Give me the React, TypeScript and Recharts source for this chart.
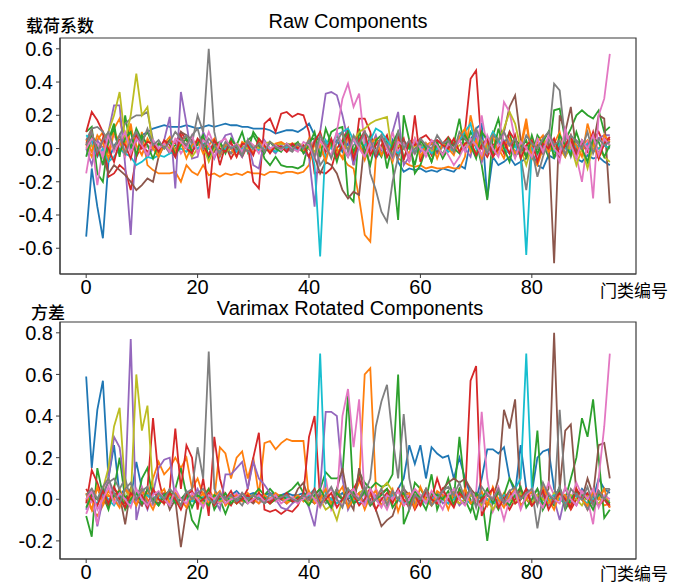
import { LineChart, Line, XAxis, YAxis, ReferenceArea } from "recharts";

// ---- Raw Components (top panel), x = 0..94 ----
const rawBlue = [
  -0.53, -0.12, -0.35, -0.54, -0.08, 0.02, 0.05, 0.08, 0.0, 0.05,
  0.08, 0.1, 0.12, 0.13, 0.14, 0.13, 0.13, 0.13, 0.14, 0.13,
  0.12, 0.13, 0.14, 0.13, 0.14, 0.15, 0.14, 0.14, 0.13, 0.13,
  0.12, 0.12, 0.12, 0.11, 0.09, 0.1, 0.11, 0.11, 0.1, 0.12,
  0.15, 0.08, 0.05, 0.04, 0.02, 0.05, -0.02, 0.03, -0.05, 0.02,
  -0.03, 0.04, -0.06, 0.0, -0.04, 0.05, -0.08, -0.14, -0.12, -0.13,
  -0.12, -0.14, -0.13, -0.14, -0.12, -0.13, -0.14, -0.1, -0.12, 0.05,
  0.12, 0.15, -0.3, -0.05, -0.1, -0.08, -0.05, -0.1, -0.08, -0.06,
  -0.02, -0.1, -0.12, -0.04, -0.06, 0.02, -0.04, 0.0, -0.06, -0.08,
  -0.04, -0.06, -0.05, -0.08, -0.1,
];
const rawOrange = [
  0.02, -0.05, 0.05, 0.1, -0.03, 0.12, 0.18, 0.02, 0.15, -0.05,
  0.1, -0.1, -0.13, -0.15, -0.15, -0.15, -0.14, -0.2, -0.1, -0.14,
  -0.16, -0.1, -0.16, -0.15, -0.17, -0.15, -0.16, -0.15, -0.16, -0.14,
  -0.15, -0.15, -0.16, -0.14, -0.14, -0.15, -0.14, -0.14, -0.15, -0.14,
  -0.1, 0.03, -0.05, 0.0, 0.04, -0.02, -0.05, -0.1, -0.12, -0.3,
  -0.52, -0.56, -0.05, 0.02, -0.04, 0.03, -0.06, -0.08, -0.1, -0.11,
  -0.1, -0.12, -0.11, -0.12, -0.12, -0.11, -0.12, -0.12, -0.05, 0.2,
  0.05, -0.08, 0.02, -0.05, 0.0, -0.06, 0.05, -0.03, 0.02, 0.18,
  -0.05, -0.1, 0.0, 0.05, -0.02, 0.0, -0.05, 0.03, -0.04, 0.02,
  0.05, 0.0, -0.03, 0.02, 0.0,
];
const rawGreen = [
  0.1, 0.13, -0.15, -0.2, 0.05, 0.15, -0.05, 0.2, 0.0, 0.12,
  0.05, 0.1, 0.02, -0.02, 0.03, -0.01, 0.02, 0.04, 0.0, 0.02,
  0.05, 0.0, -0.05, 0.02, -0.03, 0.0, 0.05, 0.02, 0.1, -0.02,
  0.1, 0.05, -0.06, -0.1, -0.05, -0.1, -0.11, -0.11, -0.12, -0.1,
  0.05, 0.06, 0.05, 0.0, 0.1, 0.12, 0.13, -0.28, -0.32, 0.12,
  -0.05, 0.08, 0.0, -0.05, 0.06, -0.1, -0.43, 0.2, 0.05, -0.15,
  -0.1, 0.0, -0.08, 0.02, -0.06, 0.0, 0.03, 0.18, -0.02, 0.1,
  0.05, -0.1, -0.31, 0.08, 0.18, 0.02, 0.1, -0.05, 0.0, 0.05,
  -0.06, 0.08, 0.03, -0.05, 0.23, 0.24, 0.05, 0.12, 0.2, 0.23,
  0.2, 0.18, 0.23, 0.1, 0.13,
];
const rawRed = [
  0.1, 0.22, 0.17, 0.1, -0.17, -0.15, -0.1, -0.13, -0.25, -0.05,
  0.02, -0.02, 0.0, 0.03, 0.02, 0.05, 0.03, 0.1, 0.05, -0.02,
  0.05, 0.02, -0.3, 0.05, -0.1, 0.02, -0.06, 0.0, -0.05, 0.02,
  -0.2, -0.24, 0.15, 0.18, 0.1, 0.21, 0.22, 0.19, 0.21, 0.2,
  0.1, -0.15, -0.14, -0.15, -0.12, 0.0, 0.05, 0.12, -0.1, 0.18,
  0.18, 0.1, -0.05, 0.02, 0.08, -0.05, 0.0, 0.06, -0.08, 0.2,
  -0.08, 0.03, -0.04, 0.05, 0.03, 0.07, 0.02, 0.05, 0.1, 0.42,
  0.47, 0.0, -0.05, 0.02, 0.05, -0.03, 0.1, 0.05, 0.02, -0.05,
  0.03, 0.0, -0.03, 0.05, 0.02, -0.05, 0.02, 0.05, -0.04, 0.03,
  -0.02, 0.05, 0.1, 0.02, 0.06,
];
const rawPurple = [
  0.0, -0.1, 0.05, 0.0, 0.1, 0.26, 0.26, -0.1, -0.52, 0.1,
  0.02, -0.05, 0.0, -0.02, 0.05, 0.19, -0.24, 0.34, 0.15, -0.06,
  -0.05, 0.1, 0.03, -0.06, 0.02, 0.08, 0.09, 0.0, -0.05, 0.05,
  -0.1, -0.12, 0.05, 0.0, -0.03, 0.02, -0.01, 0.0, 0.02, -0.02,
  -0.05, -0.35, 0.1, 0.33, 0.34, 0.32, 0.2, 0.05, -0.1, 0.02,
  -0.05, 0.0, 0.08, -0.03, 0.0, 0.1, 0.22, -0.1, -0.05, 0.05,
  -0.02, 0.02, 0.0, -0.03, 0.01, 0.02, -0.02, 0.05, 0.0, -0.05,
  0.1, -0.08, 0.02, 0.0, -0.03, 0.05, 0.02, -0.02, 0.03, 0.0,
  -0.04, 0.02, 0.05, -0.03, 0.04, 0.0, 0.08, 0.02, -0.02, 0.05,
  0.0, 0.02, 0.06, 0.08, 0.08,
];
const rawBrown = [
  0.02, 0.08, 0.0, -0.05, -0.15, -0.1, -0.13, -0.16, -0.2, -0.25,
  -0.22, -0.18, -0.2, -0.05, 0.02, 0.0, -0.05, 0.1, 0.08, 0.05,
  0.02, 0.06, 0.0, -0.02, 0.03, 0.0, -0.03, 0.02, 0.0, 0.0,
  -0.02, 0.02, 0.0, -0.01, 0.01, 0.0, 0.0, 0.02, 0.0, -0.02,
  0.0, -0.05, -0.15, -0.08, -0.1, -0.15, -0.25, -0.3, -0.26, -0.28,
  0.05, -0.02, 0.03, 0.06, -0.05, 0.02, -0.05, 0.05, 0.0, -0.03,
  0.02, 0.0, 0.03, -0.02, 0.02, 0.04, 0.02, 0.05, 0.06, 0.0,
  0.03, -0.04, 0.02, 0.0, 0.05, 0.1, 0.25, 0.32, 0.05, -0.05,
  0.0, 0.02, -0.03, 0.05, -0.69, 0.2, 0.1, 0.25, -0.02, 0.05,
  0.0, 0.02, 0.2, 0.18, -0.33,
];
const rawPink = [
  -0.15, 0.05, -0.22, 0.0, 0.05, 0.08, 0.02, -0.05, 0.05, 0.0,
  -0.03, 0.02, 0.0, -0.02, 0.03, 0.0, 0.05, -0.03, 0.02, 0.0,
  0.04, 0.0, 0.1, 0.02, -0.02, 0.0, 0.03, -0.02, 0.01, 0.0,
  -0.02, 0.03, 0.0, -0.02, 0.0, 0.01, -0.02, 0.0, 0.02, -0.01,
  0.0, 0.05, -0.05, 0.02, 0.0, 0.1, 0.3, 0.39, 0.25, 0.33,
  0.02, -0.03, 0.05, 0.0, -0.05, 0.1, -0.02, 0.03, -0.08, 0.0,
  0.02, -0.05, 0.0, 0.05, 0.02, -0.04, -0.1, -0.05, 0.02, 0.0,
  -0.03, 0.2, 0.0, -0.05, 0.02, 0.28, 0.22, 0.05, -0.04, 0.0,
  0.02, -0.05, 0.02, 0.05, 0.0, -0.08, 0.1, 0.0, -0.05, -0.2,
  0.05, -0.3, 0.2, 0.3, 0.57,
];
const rawGray = [
  0.05, 0.12, 0.13, 0.1, 0.05, 0.0, 0.08, 0.15, 0.18, 0.2,
  0.2, 0.22, 0.05, 0.0, 0.02, -0.03, 0.0, 0.05, 0.08, 0.03,
  0.2, 0.1, 0.6, 0.1, -0.05, 0.02, -0.03, 0.0, 0.02, -0.02,
  0.0, 0.02, -0.01, 0.0, -0.02, 0.01, 0.0, -0.02, 0.02, 0.0,
  -0.05, 0.05, -0.1, -0.05, 0.02, 0.08, 0.0, -0.05, 0.02, 0.05,
  0.1, -0.15, -0.25, -0.38, -0.44, -0.2, -0.05, 0.02, -0.05, 0.0,
  0.03, -0.02, 0.05, 0.0, -0.03, 0.02, 0.0, 0.05, 0.1, 0.02,
  -0.05, 0.03, 0.0, -0.02, 0.05, 0.0, -0.03, 0.02, -0.05, -0.25,
  0.0, -0.17, -0.05, 0.05, 0.39, 0.35, 0.05, -0.05, 0.05, 0.02,
  0.0, 0.05, -0.03, 0.05, 0.02,
];
const rawOlive = [
  0.0, 0.02, -0.03, 0.05, 0.1, 0.2, 0.34, 0.05, 0.2, 0.45,
  0.2, 0.25, 0.0, -0.03, 0.02, 0.0, -0.02, 0.03, 0.0, -0.05,
  0.0, 0.02, -0.08, 0.0, 0.02, -0.02, 0.0, 0.03, 0.01, 0.0,
  0.02, 0.0, 0.03, 0.04, 0.02, 0.03, 0.02, 0.03, 0.03, 0.02,
  0.0, -0.02, 0.05, 0.0, 0.03, -0.03, 0.02, 0.0, 0.05, 0.1,
  0.12, 0.15, 0.17, 0.18, 0.19, -0.05, 0.02, 0.0, -0.03, 0.02,
  0.0, 0.03, -0.02, 0.0, 0.02, 0.0, -0.02, 0.02, 0.03, 0.0,
  -0.02, 0.05, 0.0, 0.1, 0.05, 0.12, 0.22, 0.15, 0.0, -0.1,
  0.02, 0.0, 0.05, -0.02, 0.0, 0.03, -0.05, 0.02, -0.1, 0.0,
  -0.12, 0.02, 0.0, -0.05, -0.08,
];
const rawCyan = [
  0.08, 0.05, -0.05, 0.0, -0.08, -0.05, 0.0, -0.03, -0.05, -0.1,
  -0.08, -0.05, -0.06, -0.04, -0.05, -0.03, -0.02, 0.0, -0.02, 0.02,
  0.0, 0.03, 0.0, 0.02, -0.02, 0.0, 0.01, -0.02, 0.0, 0.02,
  0.0, -0.01, 0.01, 0.0, -0.02, 0.0, 0.01, 0.0, -0.01, 0.0,
  0.05, -0.1, -0.65, 0.05, 0.0, 0.08, 0.1, 0.12, 0.05, 0.0,
  0.02, 0.05, 0.12, 0.1, 0.05, 0.0, -0.03, 0.02, 0.0, -0.02,
  0.0, 0.02, -0.03, 0.0, 0.02, -0.02, 0.0, 0.05, 0.1, 0.15,
  0.0, -0.05, 0.02, 0.1, 0.05, 0.0, -0.03, 0.02, -0.05, -0.64,
  0.0, -0.03, 0.02, 0.0, -0.02, 0.03, 0.0, -0.02, 0.02, 0.0,
  0.03, -0.02, 0.0, 0.02, 0.0,
];
const rawMinorA = [
  0.05, -0.02, 0.08, 0.03, -0.06, 0.1, 0.04, -0.03, 0.12, 0.02,
  -0.04, 0.06, 0.0, -0.05, 0.03, 0.07, -0.02, 0.04, -0.06, 0.02,
  0.05, -0.03, 0.02, 0.06, -0.04, 0.03, 0.0, -0.05, 0.04, 0.02,
  -0.03, 0.05, 0.01, -0.02, 0.03, 0.04, 0.02, 0.03, 0.01, -0.02,
  0.06, -0.05, 0.02, -0.08, 0.05, 0.0, -0.06, 0.08, -0.03, 0.04,
  -0.07, 0.03, 0.06, -0.04, 0.02, -0.08, 0.05, 0.0, -0.03, 0.06,
  -0.05, 0.02, 0.04, -0.06, 0.03, 0.0, -0.04, 0.07, 0.12, -0.02,
  0.05, -0.06, 0.03, 0.08, -0.04, 0.02, 0.06, -0.03, 0.0, 0.15,
  -0.05, 0.04, 0.08, -0.02, 0.03, 0.1, -0.04, 0.06, 0.02, -0.05,
  0.15, 0.03, -0.06, 0.08, 0.04,
];
const rawMinorB = [
  -0.05, 0.08, 0.02, -0.1, 0.05, 0.12, -0.03, 0.06, 0.1, -0.04,
  0.08, 0.02, -0.06, 0.03, 0.0, 0.05, -0.04, 0.02, 0.06, -0.02,
  0.03, 0.08, -0.05, 0.02, 0.04, -0.03, 0.06, 0.01, -0.04, 0.05,
  0.08, 0.02, -0.03, 0.04, 0.0, -0.02, 0.03, 0.01, 0.04, -0.03,
  0.02, 0.1, -0.05, 0.12, 0.03, -0.08, 0.04, 0.1, -0.02, 0.06,
  0.0, -0.1, 0.05, 0.08, -0.12, 0.03, 0.1, -0.06, 0.02, -0.1,
  0.05, 0.0, -0.08, 0.04, -0.05, 0.06, 0.0, -0.03, 0.08, 0.02,
  -0.06, 0.1, 0.05, -0.04, 0.12, 0.0, -0.08, 0.05, 0.02, -0.05,
  0.08, -0.03, 0.04, 0.1, -0.06, 0.08, 0.02, -0.04, 0.1, 0.0,
  -0.08, 0.06, 0.04, -0.05, 0.02,
];
const rawMinorC = [
  0.03, 0.1, -0.04, 0.06, 0.0, -0.08, 0.05, 0.02, -0.06, 0.08,
  0.0, 0.04, 0.03, -0.02, 0.05, 0.02, -0.05, 0.08, 0.0, -0.03,
  0.06, 0.02, -0.04, 0.05, 0.0, -0.02, 0.04, -0.05, 0.03, 0.02,
  -0.04, 0.06, 0.02, -0.03, 0.02, 0.01, -0.02, 0.03, 0.0, 0.02,
  -0.05, 0.04, 0.1, -0.02, 0.06, -0.05, 0.02, 0.08, -0.06, 0.05,
  0.1, -0.04, 0.02, 0.06, -0.05, 0.0, 0.08, -0.07, 0.05, 0.02,
  0.06, 0.08, 0.04, 0.05, 0.02, 0.0, 0.06, -0.02, 0.03, 0.05,
  -0.04, 0.02, 0.06, -0.05, 0.0, 0.04, -0.03, 0.08, -0.06, 0.02,
  0.05, -0.08, 0.03, 0.0, 0.06, -0.04, 0.02, 0.08, -0.05, 0.04,
  0.0, 0.1, -0.06, 0.03, 0.07,
];
const rawMinorD = [
  0.0, 0.06, 0.03, -0.05, 0.08, -0.02, 0.04, 0.1, -0.03, 0.06,
  0.02, -0.04, 0.05, 0.0, 0.03, -0.02, 0.06, 0.04, 0.0, 0.08,
  -0.03, 0.05, 0.02, -0.05, 0.04, 0.06, 0.0, 0.03, -0.02, 0.05,
  0.02, -0.03, 0.04, 0.0, 0.02, -0.01, 0.03, 0.0, -0.02, 0.04,
  0.02, -0.06, 0.05, 0.0, -0.04, 0.1, 0.02, -0.05, 0.06, 0.0,
  -0.05, 0.04, -0.02, 0.08, 0.0, -0.06, 0.04, 0.02, -0.05, 0.06,
  0.0, -0.03, 0.05, 0.02, -0.04, 0.03, 0.0, 0.05, -0.02, 0.06,
  0.02, -0.04, 0.08, 0.0, -0.05, 0.1, 0.03, -0.06, 0.04, 0.0,
  -0.05, 0.06, -0.02, 0.08, 0.0, -0.04, 0.12, 0.02, -0.06, 0.05,
  0.0, 0.08, -0.04, 0.06, 0.02,
];
const rawMinorE = [
  0.02, 0.1, -0.02, 0.05, 0.1, 0.0, 0.08, -0.03, 0.05, 0.1,
  0.03, 0.12, 0.02, 0.05, 0.0, 0.04, 0.1, 0.06, 0.02, 0.08,
  0.12, 0.0, 0.06, 0.02, -0.03, 0.04, 0.0, 0.02, -0.04, 0.05,
  0.0, 0.03, -0.02, 0.04, 0.01, 0.0, 0.02, -0.01, 0.03, 0.0,
  0.05, -0.05, 0.08, 0.02, -0.06, 0.04, 0.1, -0.02, 0.08, 0.02,
  0.1, 0.05, -0.03, 0.08, 0.02, -0.05, 0.1, 0.0, 0.05, -0.03,
  0.06, 0.02, 0.0, 0.08, 0.03, 0.05, -0.02, 0.1, 0.06, 0.02,
  0.12, 0.04, -0.03, 0.08, 0.05, 0.1, 0.02, 0.06, -0.02, 0.08,
  0.03, 0.0, 0.06, 0.1, 0.02, 0.05, -0.04, 0.08, 0.04, 0.0,
  0.1, -0.03, 0.06, 0.02, 0.04,
];

// ---- Varimax Rotated Components (bottom panel) ----
const rotBlue = [
  0.59, 0.15, 0.43, 0.57, 0.1, 0.26, 0.02, 0.05, 0.0, 0.18,
  0.05, 0.02, 0.0, 0.03, 0.0, 0.02, -0.01, 0.0, 0.03, 0.0,
  -0.02, 0.01, 0.0, 0.02, -0.01, 0.0, 0.02, 0.04, 0.01, 0.02,
  0.03, 0.02, 0.02, 0.03, 0.02, 0.02, 0.03, 0.02, 0.02, 0.03,
  0.02, 0.01, 0.0, 0.02, 0.0, 0.01, 0.03, 0.0, 0.02, 0.0,
  -0.01, 0.02, 0.0, -0.03, 0.02, 0.0, 0.05, 0.1, 0.26, 0.17,
  0.26, 0.1, 0.25, 0.22, 0.2, 0.21, 0.1, 0.2, 0.1, 0.02,
  0.0, 0.1, 0.24, 0.24, 0.22, 0.25, 0.1, 0.03, 0.26, 0.05,
  0.03, 0.2, 0.23, 0.24, 0.05, 0.0, 0.02, -0.02, 0.0, 0.05,
  0.02, 0.0, 0.1, 0.05, 0.03,
];
const rotOrange = [
  0.0, -0.05, -0.08, -0.03, 0.02, 0.0, 0.05, -0.02, 0.03, 0.0,
  0.05, 0.02, 0.1, 0.18, 0.12, 0.15, 0.2, 0.15, 0.2, 0.05,
  0.1, 0.02, 0.05, 0.0, 0.25, 0.22, 0.1, 0.2, 0.23, 0.1,
  0.2, 0.02, 0.27, 0.28, 0.24, 0.27, 0.29, 0.28, 0.28, 0.28,
  0.0, 0.02, -0.03, 0.0, -0.02, 0.05, 0.0, -0.03, 0.02, 0.08,
  0.6, 0.63, 0.05, 0.0, -0.02, 0.03, 0.0, -0.02, 0.02, 0.0,
  -0.03, 0.02, 0.0, -0.02, 0.03, 0.0, 0.02, -0.02, 0.0, 0.03,
  0.0, -0.03, 0.02, 0.0, -0.02, 0.03, 0.0, -0.02, 0.02, 0.0,
  -0.03, 0.02, 0.0, 0.03, -0.02, 0.0, 0.02, -0.03, 0.0, 0.02,
  0.0, -0.02, 0.01, -0.03, -0.02,
];
const rotGreen = [
  -0.08, -0.18, 0.15, 0.02, -0.05, 0.05, 0.2, 0.0, 0.05, -0.03,
  0.1, 0.15, 0.0, -0.03, 0.02, 0.0, 0.05, 0.15, 0.02, -0.1,
  -0.14, 0.0, 0.05, -0.05, 0.0, -0.07, 0.0, -0.02, 0.03, 0.0,
  0.02, 0.05, 0.02, 0.05, 0.02, 0.0, 0.03, 0.05, 0.08, 0.03,
  0.0, 0.02, 0.05, 0.13, 0.1, 0.1, 0.12, 0.5, 0.0, 0.13,
  0.08, 0.05, 0.08, 0.06, 0.07, 0.12, 0.6, -0.12, -0.05, 0.08,
  0.05, 0.0, 0.12, -0.05, 0.02, 0.1, 0.0, 0.3, 0.05, 0.0,
  -0.1, 0.02, -0.2, 0.0, -0.05, 0.02, 0.1, 0.05, -0.03, 0.0,
  0.05, 0.33, -0.05, 0.0, -0.03, 0.05, 0.0, 0.1, 0.2, 0.39,
  0.3, 0.48, 0.2, -0.09, -0.05,
];
const rotRed = [
  -0.02, 0.14, 0.08, 0.0, -0.03, 0.02, 0.0, -0.02, 0.05, 0.0,
  -0.03, 0.05, 0.39, 0.1, -0.02, 0.05, 0.34, 0.05, 0.26, 0.2,
  -0.05, 0.1, -0.08, 0.3, 0.1, 0.0, -0.03, 0.02, 0.0, 0.05,
  0.2, 0.32, -0.05, -0.06, -0.05, -0.07, -0.05, -0.06, -0.03, 0.03,
  0.3, 0.4, 0.0, 0.02, 0.0, 0.02, 0.0, 0.03, 0.05, 0.1,
  0.02, 0.05, 0.0, 0.03, 0.05, 0.02, 0.0, -0.03, 0.02, -0.05,
  0.0, 0.05, 0.0, 0.1, 0.02, 0.0, -0.02, 0.05, 0.0, 0.57,
  0.64, -0.08, -0.02, 0.0, 0.03, 0.0, -0.05, 0.0, 0.05, 0.0,
  -0.03, 0.02, 0.05, 0.0, 0.0, 0.03, 0.0, -0.05, 0.0, 0.02,
  -0.05, 0.0, -0.03, 0.0, -0.04,
];
const rotPurple = [
  -0.05, 0.05, -0.13, 0.0, 0.1, 0.3, 0.25, 0.05, 0.77, -0.1,
  0.02, -0.05, 0.03, 0.15, 0.19, 0.2, 0.0, -0.03, 0.02, 0.0,
  0.05, -0.02, 0.03, 0.0, -0.05, 0.12, 0.12, 0.15, 0.18, 0.05,
  0.18, 0.1, 0.07, 0.03, 0.0, -0.04, -0.05, -0.02, 0.0, 0.02,
  -0.04, -0.13, 0.05, 0.42, 0.42, 0.4, 0.1, -0.05, 0.0, 0.03,
  -0.02, 0.0, 0.02, -0.03, 0.0, 0.02, 0.0, -0.02, 0.03, 0.0,
  -0.02, 0.02, 0.0, 0.03, -0.02, 0.0, 0.02, -0.03, 0.0, 0.02,
  0.0, -0.02, 0.03, 0.0, -0.03, 0.02, 0.0, -0.02, 0.0, 0.03,
  -0.02, 0.0, 0.02, -0.03, 0.0, -0.1, 0.02, 0.0, -0.03, 0.02,
  0.0, -0.02, 0.03, 0.0, -0.03,
];
const rotBrown = [
  0.0, 0.02, 0.05, 0.0, -0.03, 0.05, 0.02, -0.12, 0.05, 0.0,
  -0.03, 0.02, 0.0, -0.02, 0.03, -0.05, 0.0, -0.23, -0.05, 0.02,
  0.0, -0.03, 0.02, 0.0, -0.02, 0.01, 0.0, -0.02, 0.03, 0.0,
  -0.02, 0.01, 0.0, -0.01, 0.02, 0.0, 0.02, -0.01, 0.05, 0.08,
  0.0, -0.02, 0.02, 0.0, -0.03, 0.05, 0.15, 0.0, -0.05, 0.15,
  0.02, 0.0, -0.05, -0.13, -0.1, -0.08, 0.0, 0.05, 0.02, 0.0,
  -0.03, 0.02, 0.0, -0.02, 0.05, 0.08, 0.1, 0.08, 0.1, 0.05,
  0.02, 0.0, -0.03, 0.0, 0.1, 0.43, 0.34, 0.48, 0.0, 0.05,
  -0.02, 0.02, 0.0, 0.05, 0.8, 0.05, 0.33, 0.36, 0.03, 0.0,
  0.1, 0.02, 0.26, 0.27, 0.1,
];
const rotPink = [
  -0.07, 0.0, -0.12, 0.05, 0.1, 0.0, -0.03, 0.05, 0.0, -0.02,
  0.06, 0.0, -0.03, 0.02, 0.0, -0.02, 0.03, 0.0, -0.02, 0.02,
  0.0, -0.03, 0.03, 0.0, -0.02, 0.01, 0.0, 0.03, -0.01, 0.0,
  0.02, -0.02, 0.0, 0.01, -0.01, 0.0, 0.02, 0.0, -0.02, 0.01,
  0.0, 0.02, -0.03, 0.1, -0.05, 0.0, 0.4, 0.53, 0.25, 0.48,
  0.0, -0.03, 0.05, 0.0, -0.05, 0.02, 0.0, -0.02, 0.03, 0.0,
  -0.03, 0.02, 0.0, -0.02, 0.03, 0.0, -0.03, 0.02, 0.0, -0.02,
  0.03, 0.42, 0.1, -0.06, 0.0, -0.1, 0.0, 0.05, -0.03, 0.0,
  0.02, 0.05, 0.0, 0.08, 0.02, 0.0, 0.05, 0.0, 0.08, 0.02,
  0.0, -0.12, 0.1, 0.35, 0.7,
];
const rotGray = [
  0.02, 0.05, 0.0, 0.03, 0.08, 0.1, 0.05, 0.1, 0.0, 0.03,
  0.05, -0.02, 0.0, 0.02, 0.0, -0.03, 0.02, 0.0, 0.03, 0.05,
  0.25, 0.1, 0.71, 0.05, 0.0, -0.02, 0.02, 0.0, -0.03, 0.02,
  0.0, 0.01, -0.02, 0.0, 0.02, 0.0, -0.02, 0.01, 0.0, 0.02,
  -0.02, 0.0, 0.03, -0.02, 0.0, 0.05, 0.0, -0.03, 0.02, 0.0,
  0.03, 0.1, 0.35, 0.47, 0.55, 0.3, 0.1, 0.41, 0.1, -0.03,
  0.02, 0.0, -0.02, 0.03, 0.0, -0.02, 0.05, 0.0, -0.02, 0.03,
  0.0, -0.02, 0.02, 0.0, 0.03, -0.02, 0.0, 0.02, -0.03, 0.0,
  0.05, -0.14, 0.02, 0.0, -0.02, 0.43, 0.05, 0.0, 0.03, 0.0,
  -0.05, 0.02, 0.0, 0.05, 0.05,
];
const rotOlive = [
  0.02, 0.0, -0.03, 0.05, 0.15, 0.35, 0.44, 0.05, 0.0, 0.6,
  0.33, 0.45, 0.05, 0.0, -0.02, 0.02, 0.0, -0.03, 0.02, 0.0,
  0.02, -0.02, 0.0, 0.02, -0.01, 0.0, 0.01, -0.02, 0.0, 0.01,
  0.02, 0.0, 0.01, -0.02, 0.0, 0.02, -0.01, 0.0, 0.01, 0.0,
  -0.02, 0.01, 0.0, -0.05, -0.03, -0.1, 0.0, 0.02, 0.0, 0.03,
  0.05, 0.02, 0.0, 0.05, 0.08, 0.04, 0.0, 0.02, -0.02, 0.0,
  0.02, 0.0, -0.03, 0.01, 0.0, 0.02, 0.0, -0.02, 0.0, 0.02,
  0.0, -0.03, 0.0, -0.05, 0.0, 0.02, 0.0, -0.02, 0.03, 0.0,
  -0.02, 0.02, 0.0, -0.02, 0.03, 0.0, -0.02, 0.02, 0.0, -0.03,
  0.02, 0.0, -0.02, 0.01, -0.02,
];
const rotCyan = [
  0.02, 0.0, -0.02, 0.03, 0.0, -0.03, 0.02, 0.0, -0.02, 0.03,
  0.0, 0.02, -0.01, 0.0, 0.02, 0.0, -0.01, 0.0, 0.01, -0.01,
  0.0, 0.01, 0.0, -0.01, 0.0, 0.01, 0.0, -0.01, 0.0, 0.01,
  0.0, 0.01, 0.0, 0.02, 0.01, 0.0, 0.01, 0.0, 0.01, 0.0,
  0.02, 0.05, 0.7, 0.02, 0.0, -0.02, 0.0, 0.02, 0.0, -0.02,
  0.0, 0.02, 0.0, -0.03, 0.0, 0.02, 0.0, -0.02, 0.0, 0.02,
  0.0, -0.02, 0.0, 0.02, 0.0, -0.02, 0.0, 0.02, 0.0, -0.02,
  0.0, 0.02, 0.0, -0.02, 0.0, 0.02, 0.0, 0.05, 0.1, 0.7,
  0.05, 0.0, -0.02, 0.0, 0.02, 0.0, -0.02, 0.0, 0.02, 0.0,
  -0.02, 0.0, 0.02, 0.0, -0.01,
];
const rotMinorA = [
  0.03, -0.05, 0.06, -0.02, 0.04, 0.0, -0.04, 0.05, 0.02, -0.03,
  0.04, 0.0, -0.05, 0.02, 0.05, -0.02, 0.03, 0.0, -0.04, 0.02,
  0.0, 0.03, -0.02, 0.01, 0.04, -0.03, 0.0, 0.02, -0.01, 0.03,
  0.0, -0.02, 0.02, 0.0, 0.03, 0.01, -0.02, 0.0, 0.02, -0.01,
  0.04, -0.02, 0.0, 0.05, -0.03, 0.02, 0.06, -0.04, 0.0, 0.03,
  -0.05, 0.02, 0.04, -0.03, 0.0, 0.05, -0.06, 0.02, 0.03, -0.04,
  0.06, 0.0, -0.03, 0.04, 0.02, -0.05, 0.03, 0.0, 0.05, -0.02,
  0.0, 0.04, -0.03, 0.06, 0.0, -0.04, 0.02, 0.05, -0.03, 0.0,
  0.04, -0.02, 0.06, 0.0, -0.05, 0.03, 0.02, -0.04, 0.05, 0.0,
  -0.03, 0.04, 0.0, 0.05, -0.04,
];
const rotMinorB = [
  -0.04, 0.02, 0.0, 0.05, -0.03, 0.02, 0.04, -0.05, 0.0, 0.03,
  -0.02, 0.05, 0.0, -0.03, 0.02, 0.04, -0.02, 0.0, 0.03, -0.04,
  0.02, 0.0, -0.03, 0.02, 0.0, 0.03, -0.02, 0.01, 0.0, -0.02,
  0.02, 0.0, 0.01, -0.02, 0.0, 0.02, 0.0, -0.01, 0.01, 0.0,
  -0.03, 0.02, 0.05, 0.0, -0.04, 0.03, 0.0, 0.05, -0.02, 0.0,
  0.04, -0.03, 0.0, 0.02, 0.05, -0.04, 0.0, 0.03, -0.02, 0.04,
  0.0, -0.05, 0.03, 0.02, 0.0, 0.04, -0.03, 0.05, 0.0, -0.06,
  0.03, 0.0, 0.05, -0.02, 0.04, 0.0, -0.03, 0.02, 0.06, -0.04,
  0.0, 0.05, -0.03, 0.02, 0.0, 0.06, -0.05, 0.0, 0.04, 0.02,
  0.0, -0.05, 0.03, 0.0, -0.02,
];
const rotMinorC = [
  0.05, 0.0, -0.03, 0.04, -0.02, 0.06, 0.0, -0.04, 0.03, 0.0,
  0.02, -0.04, 0.05, 0.0, -0.02, 0.03, 0.0, -0.05, 0.02, 0.04,
  -0.02, 0.0, 0.03, -0.03, 0.02, 0.0, 0.04, -0.02, 0.0, 0.02,
  -0.01, 0.03, 0.0, -0.02, 0.01, 0.0, 0.03, -0.01, 0.0, 0.02,
  0.0, 0.05, -0.02, 0.0, 0.03, -0.04, 0.0, 0.04, 0.02, -0.03,
  0.0, 0.04, -0.05, 0.0, 0.03, -0.02, 0.05, 0.0, -0.04, 0.02,
  -0.03, 0.04, 0.0, -0.02, 0.05, 0.0, -0.04, 0.03, 0.0, 0.05,
  -0.03, 0.0, 0.02, 0.05, -0.04, 0.0, 0.04, -0.02, 0.0, 0.05,
  -0.03, 0.0, 0.04, -0.05, 0.0, 0.03, 0.0, -0.04, 0.05, 0.0,
  0.03, -0.02, 0.04, 0.0, -0.03,
];
const rotMinorD = [
  0.0, 0.04, -0.05, 0.0, 0.06, -0.02, 0.03, 0.0, -0.04, 0.05,
  0.0, -0.03, 0.02, 0.04, 0.0, -0.03, 0.05, 0.0, -0.02, 0.03,
  0.0, -0.04, 0.02, 0.0, 0.03, -0.02, 0.0, 0.01, 0.03, -0.02,
  0.0, 0.02, -0.01, 0.0, 0.02, -0.02, 0.0, 0.01, -0.01, 0.0,
  0.03, 0.0, -0.04, 0.02, 0.05, 0.0, -0.03, 0.02, 0.05, 0.0,
  -0.03, 0.05, 0.0, -0.04, 0.02, 0.0, 0.04, -0.03, 0.0, 0.05,
  0.02, -0.02, 0.04, 0.0, -0.05, 0.02, 0.05, 0.0, -0.03, 0.04,
  0.0, -0.05, 0.03, 0.0, 0.06, -0.02, 0.0, 0.04, -0.05, 0.02,
  0.05, 0.0, -0.04, 0.03, 0.0, -0.02, 0.06, 0.0, -0.03, 0.04,
  0.0, 0.05, -0.04, 0.02, 0.0,
];
const rotMinorE = [
  0.02, 0.05, 0.0, 0.06, 0.1, 0.03, -0.02, 0.05, 0.08, 0.0,
  0.04, 0.06, -0.02, 0.03, 0.0, 0.05, 0.02, -0.03, 0.04, 0.0,
  0.03, 0.05, 0.0, -0.02, 0.03, 0.0, 0.02, -0.01, 0.03, 0.0,
  0.02, 0.0, -0.02, 0.03, 0.0, 0.01, 0.02, 0.0, -0.01, 0.02,
  0.0, 0.04, -0.03, 0.02, 0.06, 0.0, -0.04, 0.05, 0.02, 0.0,
  0.06, -0.02, 0.0, 0.05, -0.03, 0.04, 0.0, 0.06, -0.05, 0.02,
  0.0, 0.05, -0.03, 0.0, 0.04, 0.06, 0.02, 0.08, 0.0, 0.05,
  -0.04, 0.06, 0.02, 0.0, 0.05, -0.02, 0.04, 0.06, 0.0, 0.03,
  0.05, -0.03, 0.08, 0.02, 0.0, 0.06, -0.04, 0.05, 0.02, 0.0,
  0.06, -0.03, 0.04, 0.0, 0.05,
];

const blue = "#1f77b4";
const orange = "#ff7f0e";
const green = "#2ca02c";
const red = "#d62728";
const purple = "#9467bd";
const brown = "#8c564b";
const pink = "#e377c2";
const gray = "#7f7f7f";
const olive = "#bcbd22";
const cyan = "#17becf";

const lineColors = [
  blue, orange, green, red, purple, brown, pink, gray, olive, cyan,
  orange, green, red, pink, gray,
];

const rawLines = [
  rawBlue, rawOrange, rawGreen, rawRed, rawPurple, rawBrown, rawPink, rawGray, rawOlive, rawCyan,
  rawMinorA, rawMinorB, rawMinorC, rawMinorD, rawMinorE,
];
const rotLines = [
  rotBlue, rotOrange, rotGreen, rotRed, rotPurple, rotBrown, rotPink, rotGray, rotOlive, rotCyan,
  rotMinorA, rotMinorB, rotMinorC, rotMinorD, rotMinorE,
];

const xTicks = [0, 20, 40, 60, 80];
const rawYTicks = [-0.6, -0.4, -0.2, 0, 0.2, 0.4, 0.6];
const rotYTicks = [-0.2, 0, 0.2, 0.4, 0.6, 0.8];

function toRows(lines: number[][]) {
  return lines[0].map((_, i) => {
    const row: Record<string, number> = { x: i };
    lines.forEach((s, k) => {
      row["s" + k] = s[i];
    });
    return row;
  });
}

const font = '"Liberation Sans", Arial, sans-serif';
const cjk = '"Noto Sans CJK SC", sans-serif';
const axisColor = "#3a3a3a";
const X_MIN = -4.7;
const X_MAX = 98.7;

function Panel(props: {
  lines: number[][];
  yMin: number;
  yMax: number;
  yTicks: number[];
  height: number;
  top: number;
}) {
  const { lines, yMin, yMax, yTicks, height, top } = props;
  const rows = toRows(lines);
  return (
    <LineChart
      width={673}
      height={height}
      data={rows}
      margin={{ top, right: 37, bottom: 0, left: 0 }}
    >
      <XAxis
        type="number"
        dataKey="x"
        domain={[X_MIN, X_MAX]}
        ticks={xTicks}
        allowDataOverflow
        height={26}
        tickSize={4}
        tickMargin={2}
        stroke={axisColor}
        tick={{ fill: "#000", fontSize: 20, fontFamily: font }}
      />
      <YAxis
        type="number"
        domain={[yMin, yMax]}
        ticks={yTicks}
        allowDataOverflow
        width={60}
        tickSize={4}
        tickMargin={3}
        stroke={axisColor}
        tickFormatter={(v: number) => v.toFixed(1)}
        tick={{ fill: "#000", fontSize: 20, fontFamily: font }}
      />
      {lines.map((_, k) => (
        <Line
          key={k}
          type="linear"
          dataKey={"s" + k}
          stroke={lineColors[k]}
          strokeWidth={1.8}
          dot={false}
          activeDot={false}
          isAnimationActive={false}
        />
      ))}
      <ReferenceArea
        x1={X_MIN}
        x2={X_MAX}
        y1={yMin}
        y2={yMax}
        fill="none"
        fillOpacity={0}
        stroke={axisColor}
        strokeWidth={1.2}
      />
    </LineChart>
  );
}

export default function App() {
  return (
    <div
      style={{
        position: "absolute",
        left: 0,
        top: 0,
        width: 673,
        height: 585,
        background: "#fff",
        overflow: "hidden",
      }}
    >
      <div style={{ position: "absolute", left: 0, top: 0 }}>
        <Panel lines={rawLines} yMin={-0.755} yMax={0.665} yTicks={rawYTicks} height={300} top={38} />
      </div>
      <div style={{ position: "absolute", left: 0, top: 290 }}>
        <Panel lines={rotLines} yMin={-0.287} yMax={0.852} yTicks={rotYTicks} height={295} top={32} />
      </div>

      <div style={{ position: "absolute", left: 0, width: 696, top: 9, textAlign: "center", fontFamily: font, fontSize: 20, lineHeight: "24px" }}>
        Raw Components
      </div>
      <div style={{ position: "absolute", left: 0, width: 700, top: 296, textAlign: "center", fontFamily: font, fontSize: 20, lineHeight: "24px" }}>
        Varimax Rotated Components
      </div>
      <div style={{ position: "absolute", left: 26, top: 14, fontFamily: cjk, fontSize: 17, lineHeight: "22px", fontWeight: 500 }}>
        载荷系数
      </div>
      <div style={{ position: "absolute", left: 31, top: 301, fontFamily: cjk, fontSize: 17, lineHeight: "22px", fontWeight: 500 }}>
        方差
      </div>
      <div style={{ position: "absolute", left: 600, top: 280, fontFamily: cjk, fontSize: 17, lineHeight: "20px", whiteSpace: "nowrap" }}>
        门类编号
      </div>
      <div style={{ position: "absolute", left: 600, top: 563, fontFamily: cjk, fontSize: 17, lineHeight: "20px", whiteSpace: "nowrap" }}>
        门类编号
      </div>
    </div>
  );
}
